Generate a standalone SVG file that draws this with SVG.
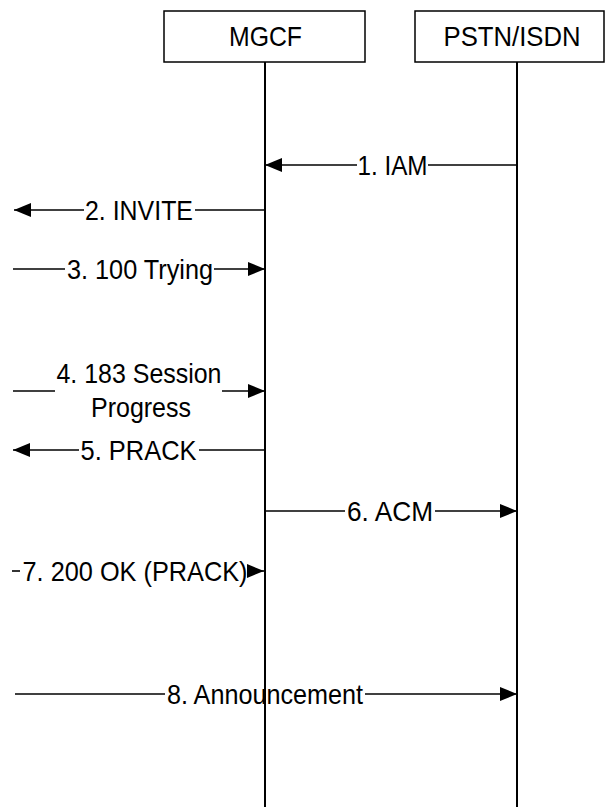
<svg xmlns="http://www.w3.org/2000/svg" width="605" height="807" viewBox="0 0 605 807">
<style>
.box{fill:#fff;stroke:#000;stroke-width:1.5}
.life{stroke:#000;stroke-width:2;fill:none}
.msg{stroke:#000;stroke-width:1.6;fill:none}
.lbl{font-family:"Liberation Sans",Arial,sans-serif;font-size:28px;fill:#000;text-anchor:middle}
</style>
<defs>
<marker id="ah" markerUnits="userSpaceOnUse" markerWidth="17" markerHeight="14" refX="17" refY="7" orient="auto">
<path d="M0,0 L17,7 L0,14 z" fill="#000"/>
</marker>
</defs>
<rect width="605" height="807" fill="#fff"/>
<g id="node-mgcf">
<rect class="box" x="164" y="11" width="201" height="51"/>
<text class="lbl" x="265.5" y="46" textLength="73" lengthAdjust="spacingAndGlyphs">MGCF</text>
<line class="life" x1="265" y1="62" x2="265" y2="807"/>
</g>
<g id="node-pstn">
<rect class="box" x="415" y="11" width="189" height="51"/>
<text class="lbl" x="512" y="46" textLength="137" lengthAdjust="spacingAndGlyphs">PSTN/ISDN</text>
<line class="life" x1="517" y1="62" x2="517" y2="807"/>
</g>
<g id="connectors">
<g id="m1">
<line class="msg" x1="517" y1="165" x2="428" y2="165"/>
<line class="msg" x1="357" y1="165" x2="265" y2="165" marker-end="url(#ah)"/>
<text class="lbl" x="392.5" y="175" textLength="70" lengthAdjust="spacingAndGlyphs">1. IAM</text>
</g>
<g id="m2">
<line class="msg" x1="265" y1="210" x2="195" y2="210"/>
<line class="msg" x1="84" y1="210" x2="14" y2="210" marker-end="url(#ah)"/>
<text class="lbl" x="139" y="220" textLength="108" lengthAdjust="spacingAndGlyphs">2. INVITE</text>
</g>
<g id="m3">
<line class="msg" x1="13" y1="269" x2="65" y2="269"/>
<line class="msg" x1="214" y1="269" x2="265" y2="269" marker-end="url(#ah)"/>
<text class="lbl" x="140" y="279" textLength="146" lengthAdjust="spacingAndGlyphs">3. 100 Trying</text>
</g>
<g id="m4">
<line class="msg" x1="13" y1="391" x2="55" y2="391"/>
<line class="msg" x1="222" y1="391" x2="265" y2="391" marker-end="url(#ah)"/>
<text class="lbl" x="139" y="383" textLength="165" lengthAdjust="spacingAndGlyphs">4. 183 Session</text>
<text class="lbl" x="141" y="417" textLength="100" lengthAdjust="spacingAndGlyphs">Progress</text>
</g>
<g id="m5">
<line class="msg" x1="265" y1="450" x2="199" y2="450"/>
<line class="msg" x1="79" y1="450" x2="13" y2="450" marker-end="url(#ah)"/>
<text class="lbl" x="138.5" y="460" textLength="116" lengthAdjust="spacingAndGlyphs">5. PRACK</text>
</g>
<g id="m6">
<line class="msg" x1="265" y1="511" x2="345" y2="511"/>
<line class="msg" x1="435" y1="511" x2="517" y2="511" marker-end="url(#ah)"/>
<text class="lbl" x="390" y="521" textLength="86" lengthAdjust="spacingAndGlyphs">6. ACM</text>
</g>
<g id="m7">
<line class="msg" x1="12" y1="571" x2="20" y2="571"/>
<line class="msg" x1="248" y1="571" x2="264" y2="571" marker-end="url(#ah)"/>
<text class="lbl" x="135" y="581" textLength="225" lengthAdjust="spacingAndGlyphs">7. 200 OK (PRACK)</text>
</g>
<g id="m8">
<line class="msg" x1="15" y1="694" x2="165" y2="694"/>
<line class="msg" x1="365" y1="694" x2="517" y2="694" marker-end="url(#ah)"/>
<text class="lbl" x="265" y="704" textLength="196" lengthAdjust="spacingAndGlyphs">8. Announcement</text>
</g>
</g>
</svg>
